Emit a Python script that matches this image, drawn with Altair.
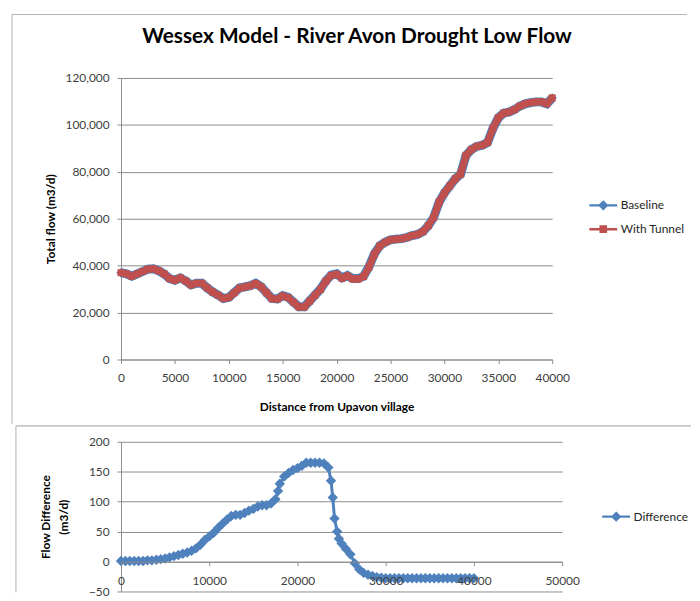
import altair as alt
import pandas as pd

# ---------------- data ----------------
top_distance = list(range(0, 40001, 500))
baseline = [
    37000, 36500, 35500, 36500, 37500, 38500, 38700, 37800, 36500, 34500,
    33800, 34800, 33500, 31800, 32500, 32500, 30500, 28800, 27500, 26000,
    26500, 28500, 30500, 31000, 31500, 32500, 31000, 28500, 26000, 25800,
    27200, 26500, 24500, 22500, 22500, 25000, 27500, 30000, 33500, 36000,
    36500, 34800, 35800, 34500, 34500, 35500, 39500, 45000, 48500, 50000,
    51000, 51300, 51500, 52000, 52800, 53300, 54500, 57000, 60500, 67000,
    71000, 74000, 77000, 79000, 87000, 89500, 90800, 91300, 92500, 98500,
    103000, 105000, 105500, 106500, 108000, 109000, 109500, 109800, 109800, 109000,
    111500,
]

diff_distance = [
    0, 500, 1000, 1500, 2000, 2500, 3000, 3500, 4000, 4500,
    5000, 5500, 6000, 6500, 7000, 7500, 8000, 8500, 9000, 9500,
    10000, 10500, 11000, 11500, 12000, 12500, 13000, 13500, 14000, 14500,
    15000, 15500, 16000, 16500, 17000, 17500, 17800, 18000, 18500, 19000,
    19500, 20000, 20500, 21000, 21500, 22000, 22500, 23000, 23500, 23800,
    24000, 24200, 24500, 24700, 25000, 25500, 26000, 26500, 27000, 27500,
    28000, 28500, 29000, 29500, 30000, 30500, 31000, 31500, 32000, 32500,
    33000, 33500, 34000, 34500, 35000, 35500, 36000, 36500, 37000, 37500,
    38000, 38500, 39000, 39500, 40000,
]
difference = [
    1, 1, 1, 1, 1, 1, 2, 2, 3, 4,
    5, 7, 9, 11, 13, 15, 18, 22, 28, 36,
    42, 48, 56, 63, 70, 76, 78, 78, 81, 85,
    88, 92, 94, 94, 97, 104, 118, 130, 142, 148,
    153, 156, 160, 165, 165, 165, 165, 164, 157, 135,
    107, 72, 50, 38, 30, 21, 12, -3, -13, -19,
    -22, -24, -26, -27, -28, -28, -28, -28, -28, -28,
    -28, -28, -28, -28, -28, -28, -28, -28, -28, -28,
    -28, -28, -28, -28, -28,
]

series_top = ["Baseline", "With Tunnel"]
series_bottom = ["Difference"]

x_ticks_top = list(range(0, 40001, 5000))
y_ticks_top = list(range(0, 120001, 20000))
x_ticks_bottom = list(range(0, 50001, 10000))
y_ticks_bottom = list(range(-50, 201, 50))

TITLE = "Wessex Model - River Avon Drought Low Flow"

# ---------------- tables ----------------
diff_lookup = dict(zip(diff_distance, difference))
with_tunnel = [b - diff_lookup[d] for d, b in zip(top_distance, baseline)]

top_df = pd.concat([
    pd.DataFrame({"distance": top_distance, "flow": baseline, "series": "Baseline"}),
    pd.DataFrame({"distance": top_distance, "flow": with_tunnel, "series": "With Tunnel"}),
])
bot_df = pd.DataFrame({"distance": diff_distance, "diff": difference, "series": "Difference"})

# ---------------- style ----------------
BLUE = "#4F81BD"
RED = "#C0504D"
GRID = "#8C8C8C"
FRAME = "#B4B4B4"
FRAME2 = "#9C9C9C"
FONT = "Lato"
LABEL = "#404040"

DIAMOND_LEG = "M-1.08,0L1.08,0M0,-0.27L0.27,0L0,0.27L-0.27,0Z"
SQUARE_LEG = "M-1.08,0L1.08,0M-0.2,-0.2L0.2,-0.2L0.2,0.2L-0.2,0.2Z"

one = alt.Data(values=[{}])

# ---------------- top chart ----------------
xt = alt.X("distance:Q", scale=alt.Scale(domain=[0, 40000], nice=False),
           axis=alt.Axis(values=x_ticks_top, format="d", grid=False, tickSize=4,
                         labelPadding=9, labelFlush=False, labelOverlap=False,
                         title="Distance from Upavon village", titlePadding=18))
yt = alt.Y("flow:Q", scale=alt.Scale(domain=[0, 120000], nice=False),
           axis=alt.Axis(values=y_ticks_top, format=",d", tickSize=4, labelPadding=8,
                         labelFlush=False, title="Total flow (m3/d)", titlePadding=8))

tbase = alt.Chart(top_df)
b_line = tbase.transform_filter(alt.datum.series == "Baseline").mark_line(
    color=BLUE, strokeWidth=9).encode(x=xt, y=yt)
b_pts = tbase.transform_filter(alt.datum.series == "Baseline").mark_point(
    shape="diamond", filled=True, color=BLUE, size=90, opacity=1).encode(x=xt, y=yt)
t_line = tbase.transform_filter(alt.datum.series == "With Tunnel").mark_line(
    color=RED, strokeWidth=7).encode(x=xt, y=yt)
t_pts = tbase.transform_filter(alt.datum.series == "With Tunnel").mark_point(
    shape="square", filled=True, color=RED, size=50, opacity=1).encode(x=xt, y=yt)

leg_top = alt.Legend(title=None, orient="none", legendX=472, legendY=114)
top_legend = tbase.transform_filter("false").mark_point(
    filled=True, opacity=1).encode(
    fill=alt.Fill("series:N", scale=alt.Scale(domain=series_top, range=[BLUE, RED]), legend=leg_top),
    stroke=alt.Stroke("series:N", scale=alt.Scale(domain=series_top, range=[BLUE, RED]), legend=leg_top),
    shape=alt.Shape("series:N", scale=alt.Scale(domain=series_top, range=[DIAMOND_LEG, SQUARE_LEG]), legend=leg_top),
)

title_mark = alt.Chart(one).mark_text(
    text=TITLE, font=FONT, fontSize=21, fontWeight="bold", color="#000000",
    baseline="middle", align="center").encode(x=alt.value(238), y=alt.value(-41))

f_top = alt.Chart(one).mark_rule(color=FRAME, strokeWidth=1).encode(
    x=alt.value(-110), x2=alt.value(571), y=alt.value(-64))
f_left = alt.Chart(one).mark_rule(color=FRAME, strokeWidth=1).encode(
    x=alt.value(-110), y=alt.value(-64), y2=alt.value(349))

top = alt.layer(f_top, f_left, title_mark, b_line, b_pts, t_line, t_pts, top_legend).properties(
    width=435, height=284)

# ---------------- bottom chart ----------------
xb = alt.X("distance:Q", scale=alt.Scale(domain=[0, 50000], nice=False),
           axis=alt.Axis(values=x_ticks_bottom, format="d", grid=False, tickSize=4,
                         labelPadding=10, labelFlush=False, labelOverlap=False,
                         offset=-30, title=None, zindex=1))
yb = alt.Y("diff:Q", scale=alt.Scale(domain=[-50, 200], nice=False),
           axis=alt.Axis(values=y_ticks_bottom, tickSize=4, labelPadding=8, labelFlush=False,
                         title=["Flow Difference", "(m3/d)"], titlePadding=18,
                         titleLineHeight=18))

bbase = alt.Chart(bot_df)
d_line = bbase.mark_line(color=BLUE, strokeWidth=3).encode(x=xb, y=yb)
d_pts = bbase.mark_point(shape="diamond", filled=True, color=BLUE, size=110, opacity=1).encode(x=xb, y=yb)

leg_bot = alt.Legend(title=None, orient="none", legendX=485, legendY=61)
bot_legend = bbase.transform_filter("false").mark_point(filled=True, opacity=1).encode(
    fill=alt.Fill("series:N", scale=alt.Scale(domain=series_bottom, range=[BLUE]), legend=leg_bot),
    stroke=alt.Stroke("series:N", scale=alt.Scale(domain=series_bottom, range=[BLUE]), legend=leg_bot),
    shape=alt.Shape("series:N", scale=alt.Scale(domain=series_bottom, range=[DIAMOND_LEG]), legend=leg_bot),
)

fb_top = alt.Chart(one).mark_rule(color=FRAME2, strokeWidth=1).encode(
    x=alt.value(-106), x2=alt.value(575), y=alt.value(-16))
fb_left = alt.Chart(one).mark_rule(color=FRAME, strokeWidth=1).encode(
    x=alt.value(-106), y=alt.value(-16), y2=alt.value(152))

bottom = alt.layer(fb_top, fb_left, d_line, d_pts, bot_legend).properties(width=445, height=151)

chart = alt.vconcat(top, bottom, spacing=0).resolve_scale(
    x="independent", y="independent", fill="independent", stroke="independent", shape="independent"
).resolve_legend(fill="independent", stroke="independent", shape="independent").properties(
    padding={"left": 3, "top": 3, "right": 0, "bottom": 0}
).configure(background="white").configure_view(stroke=None).configure_axis(
    labelFont=FONT, labelFontSize=12, labelColor=LABEL,
    titleFont=FONT, titleFontSize=12, titleFontWeight="bold", titleColor="#000000",
    domainColor=GRID, tickColor=GRID, gridColor=GRID, gridWidth=1,
).configure_legend(
    labelFont=FONT, labelFontSize=12, labelColor="#262626", symbolSize=676,
    symbolStrokeWidth=2.5, padding=0, rowPadding=0, labelOffset=3,
)

chart.save("out.html", embed_options={"renderer": "svg", "actions": False})
